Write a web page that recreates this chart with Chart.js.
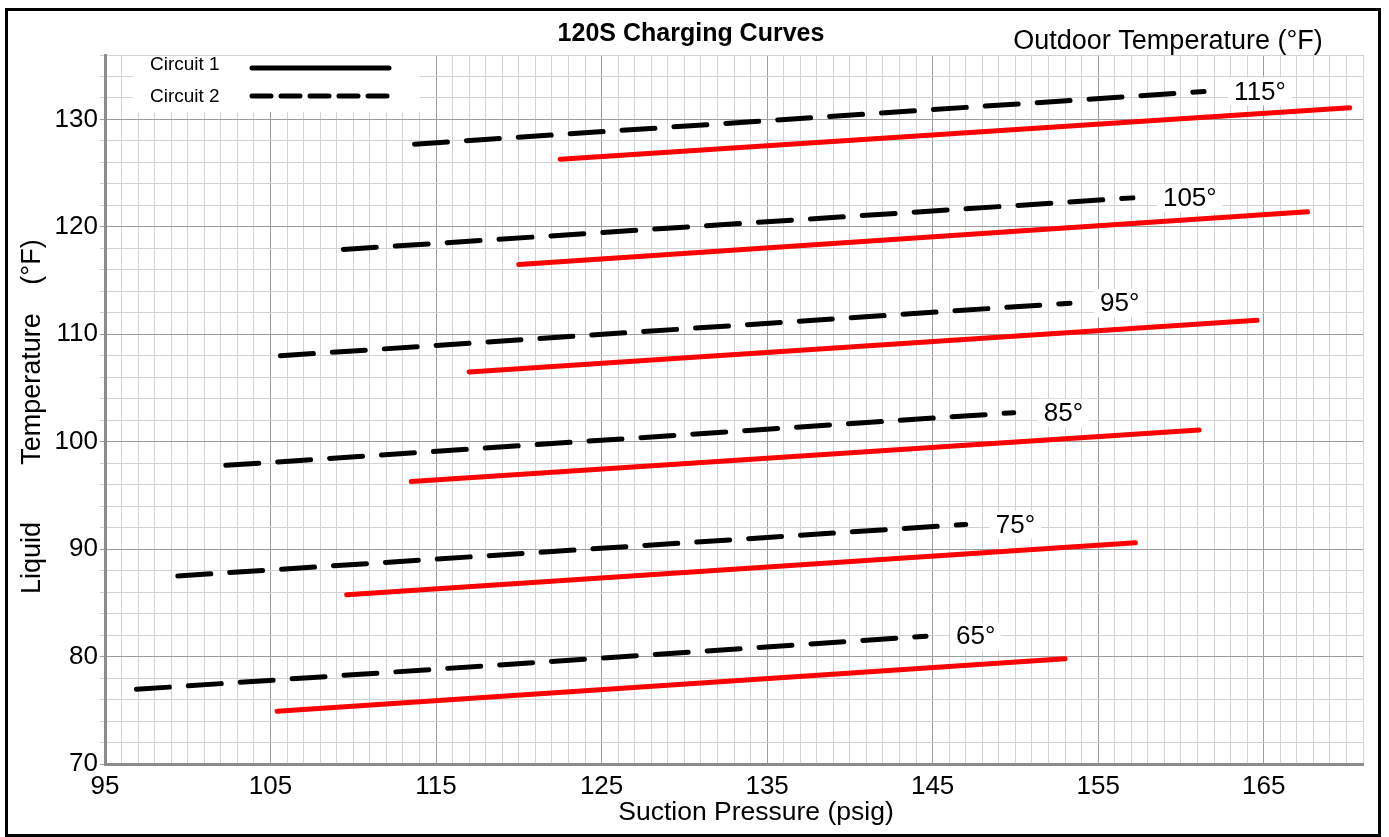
<!DOCTYPE html>
<html>
<head>
<meta charset="utf-8">
<title>120S Charging Curves</title>
<script src="https://cdn.jsdelivr.net/npm/chart.js@4.4.1/dist/chart.umd.min.js"></script>
<style>
    html, body { margin: 0; padding: 0; background: #fff; }
    #wrap { position: relative; width: 1389px; height: 837px; overflow: hidden; }
    #frame {
        position: absolute; left: 5px; top: 8px; width: 1376px; height: 829px;
        box-sizing: border-box; border: 3px solid #000; pointer-events: none;
    }
</style>
</head>
<body>
<div id="wrap">
    <canvas id="chargeChart"></canvas>
    <div id="frame"></div>
</div>
<script>
// Outdoor temperature of each pair of curves (°F)
const outdoorTemps = [65, 75, 85, 95, 105, 115];

// Circuit 1 (solid red) end points: suction pressure (psig) / liquid temp (°F)
const c1StartPsig = [105.4, 109.6, 113.5, 117.0, 120.0, 122.5];
const c1StartTemp = [74.9, 85.75, 96.3, 106.5, 116.5, 126.3];
const c1EndPsig = [153.0, 157.25, 161.1, 164.6, 167.65, 170.2];
const c1EndTemp = [79.8, 90.6, 101.1, 111.3, 121.4, 131.1];

// Circuit 2 (dashed black)
const c2StartPsig = [96.9, 99.4, 102.3, 105.6, 109.4, 113.7];
const c2StartTemp = [76.95, 87.5, 97.8, 108.0, 117.9, 127.7];
const c2EndPsig = [144.6, 147.0, 149.9, 153.3, 157.1, 161.4];
const c2EndTemp = [81.9, 92.3, 102.7, 112.9, 122.7, 132.6];

// Axis ranges and labelled ticks
const xMin = 95, xMax = 171, xStep = 1;
const yMin = 70, yMax = 136, yStep = 2;
const xTickLabels = [95, 105, 115, 125, 135, 145, 155, 165];
const yTickLabels = [70, 80, 90, 100, 110, 120, 130];

const FONT = '"Liberation Sans", Arial, sans-serif';
const MINOR = '#d2d2d2';
const MAJOR = '#9c9c9c';

const datasets = [];
outdoorTemps.forEach((t, i) => {
    datasets.push({
        label: 'Circuit 1 ' + t,
        data: [{ x: c1StartPsig[i], y: c1StartTemp[i] }, { x: c1EndPsig[i], y: c1EndTemp[i] }],
        borderColor: '#ff0000',
        borderWidth: 5,
        borderCapStyle: 'round',
        pointRadius: 0
    });
    datasets.push({
        label: 'Circuit 2 ' + t,
        data: [{ x: c2StartPsig[i], y: c2StartTemp[i] }, { x: c2EndPsig[i], y: c2EndTemp[i] }],
        borderColor: '#000000',
        borderWidth: 5,
        borderCapStyle: 'round',
        borderDash: [33, 19],
        pointRadius: 0
    });
});

// Legend, temperature labels and titles drawn on top of the chart
const decorPlugin = {
    id: 'decor',
    afterDatasetsDraw(chart) {
        const ctx = chart.ctx;
        const xs = chart.scales.x, ys = chart.scales.y;
        ctx.save();

        // legend box
        ctx.fillStyle = '#fff';
        ctx.fillRect(133, 56, 287, 56);
        ctx.fillStyle = '#000';
        ctx.font = '19px ' + FONT;
        ctx.textAlign = 'left';
        ctx.textBaseline = 'middle';
        ctx.fillText('Circuit 1', 150, 65);
        ctx.fillText('Circuit 2', 150, 97);
        ctx.strokeStyle = '#000';
        ctx.lineWidth = 5;
        ctx.lineCap = 'round';
        ctx.beginPath();
        ctx.moveTo(252, 68);
        ctx.lineTo(389, 68);
        ctx.stroke();
        ctx.setLineDash([19, 10]);
        ctx.beginPath();
        ctx.moveTo(252, 96);
        ctx.lineTo(389, 96);
        ctx.stroke();
        ctx.setLineDash([]);

        // outdoor temperature labels after the dashed curves
        ctx.font = '26px ' + FONT;
        outdoorTemps.forEach((t, i) => {
            const px = xs.getPixelForValue(c2EndPsig[i]) + 30;
            const py = ys.getPixelForValue(c2EndTemp[i]);
            const txt = t + '°';
            const w = ctx.measureText(txt).width;
            ctx.fillStyle = '#fff';
            ctx.fillRect(px - 6, py - 14, w + 12, 28);
            ctx.fillStyle = '#000';
            ctx.fillText(txt, px, py + 1);
        });
        ctx.restore();
    },
    afterDraw(chart) {
        const ctx = chart.ctx;
        ctx.save();
        ctx.fillStyle = '#000';
        ctx.textAlign = 'center';
        ctx.textBaseline = 'middle';

        ctx.font = 'bold 25px ' + FONT;
        ctx.fillText('120S Charging Curves', 691, 34);

        ctx.font = '27px ' + FONT;
        ctx.fillText('Outdoor Temperature (°F)', 1168, 42);
        ctx.font = '26.5px ' + FONT;
        ctx.fillText('Suction Pressure (psig)', 756, 813);

        // y axis title, words spread along the axis
        ctx.font = '27px ' + FONT;
        ctx.translate(33, 0);
        ctx.rotate(-Math.PI / 2);
        ctx.fillText('Liquid', -558, 0);
        ctx.fillText('Temperature', -389, 0);
        ctx.fillText('(°F)', -262, 0);
        ctx.restore();
    }
};

new Chart(document.getElementById('chargeChart'), {
    type: 'line',
    data: { datasets: datasets },
    options: {
        responsive: true,
        maintainAspectRatio: false,
        animation: false,
        layout: { padding: { left: 10, right: 26, top: 55, bottom: 0 } },
        plugins: {
            legend: { display: false },
            tooltip: { enabled: false },
            title: { display: false }
        },
        scales: {
            x: {
                type: 'linear',
                min: xMin,
                max: xMax,
                afterFit(scale) { scale.height = 73; },
                ticks: {
                    stepSize: xStep,
                    autoSkip: false,
                    maxRotation: 0,
                    padding: 7,
                    color: '#000',
                    font: { family: FONT, size: 26 },
                    callback: v => xTickLabels.includes(v) ? v : ''
                },
                grid: {
                    drawTicks: false,
                    color: c => xTickLabels.includes(c.tick.value) ? MAJOR : MINOR
                },
                border: { color: '#8c8c8c', width: 3 }
            },
            y: {
                type: 'linear',
                min: yMin,
                max: yMax,
                afterFit(scale) { scale.width = 95; },
                ticks: {
                    stepSize: yStep,
                    autoSkip: false,
                    padding: 2,
                    color: '#000',
                    font: { family: FONT, size: 26 },
                    callback: v => yTickLabels.includes(v) ? v : ''
                },
                grid: {
                    tickLength: 5,
                    color: c => yTickLabels.includes(c.tick.value) ? MAJOR : MINOR
                },
                border: { color: '#8c8c8c', width: 3 }
            }
        }
    },
    plugins: [decorPlugin]
});
</script>
</body>
</html>
